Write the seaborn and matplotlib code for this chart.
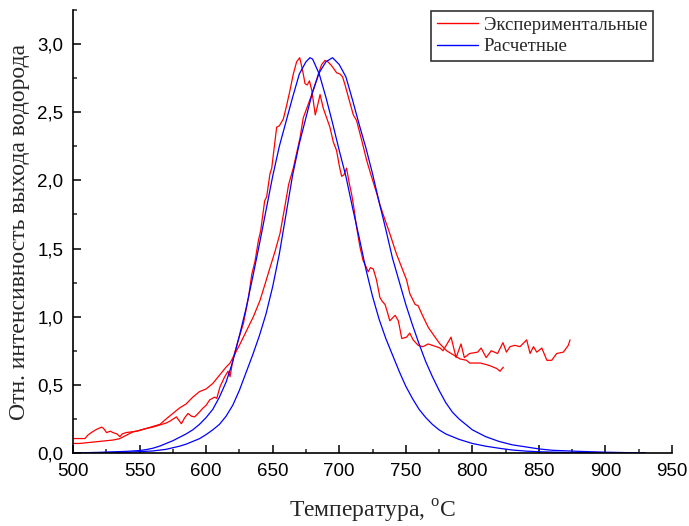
import matplotlib
matplotlib.use("Agg")
import matplotlib.pyplot as plt
from matplotlib.ticker import MultipleLocator, FuncFormatter
from matplotlib.lines import Line2D
import seaborn as sns
import pandas as pd

# ---- Data ----
exp1_t = [500, 505, 510, 515, 520, 525, 530, 535, 540, 545, 550, 555, 560, 565, 570, 573,
          577.7, 581.4, 584, 586.4, 589, 591.4, 594, 597.7, 600, 602.7, 606.4, 608, 610.4, 614,
          616.5, 618, 620.4, 624.2, 628, 631.8, 634.3, 636.8, 639.3, 641, 644, 645.5, 648, 649.3,
          651.8, 653, 655, 658, 660.5, 663, 665.5, 668, 670.3, 671.5, 673, 674.3, 676, 677.6,
          679.4, 682, 684, 685.6, 688, 690.5, 693, 695.6, 698, 700, 701.8, 703.5, 705.5, 707.5,
          709.3, 711, 713, 715.6, 718, 720, 721.8, 723.5, 725.6, 728, 730.6, 732.5, 734.4, 736,
          738, 740, 742, 744.4, 747, 750.6, 753, 755.5, 759.3, 763, 766.8, 770, 773, 775.7, 778,
          781, 784, 787.8, 791.5, 794, 798, 804, 806.6, 810.4, 814.2, 819, 823, 825.6, 828.3,
          832, 835.8, 840.8, 843.4, 845.9, 848.4, 852.2, 856, 859.6, 863.4, 868.4, 872.1, 873.4]
exp1_v = [0.07, 0.07, 0.075, 0.08, 0.085, 0.09, 0.095, 0.105, 0.13, 0.155, 0.165, 0.18, 0.19,
          0.205, 0.22, 0.235, 0.265, 0.215, 0.26, 0.29, 0.27, 0.265, 0.29, 0.33, 0.35, 0.39,
          0.41, 0.40, 0.485, 0.56, 0.60, 0.56, 0.70, 0.83, 0.95, 1.14, 1.31, 1.41, 1.56, 1.63,
          1.85, 1.88, 2.05, 2.09, 2.29, 2.39, 2.40, 2.45, 2.55, 2.66, 2.78, 2.87, 2.90, 2.85,
          2.78, 2.71, 2.70, 2.73, 2.66, 2.48, 2.56, 2.63, 2.53, 2.46, 2.39, 2.28, 2.22, 2.11,
          2.03, 2.04, 2.09, 1.98, 1.90, 1.80, 1.66, 1.51, 1.41, 1.37, 1.33, 1.36, 1.35, 1.27,
          1.14, 1.11, 1.09, 1.04, 0.97, 0.99, 1.01, 0.97, 0.84, 0.85, 0.88, 0.83, 0.79, 0.78,
          0.80, 0.79, 0.78, 0.77, 0.75, 0.80, 0.85, 0.70, 0.80, 0.70, 0.73, 0.74, 0.77, 0.70,
          0.75, 0.73, 0.81, 0.74, 0.78, 0.79, 0.78, 0.83, 0.73, 0.78, 0.74, 0.77, 0.68, 0.68,
          0.73, 0.74, 0.79, 0.83]

exp2_t = [500, 509, 511, 513.8, 517, 521.5, 523, 525.2, 528, 530, 533, 535.2, 537, 540, 544,
          547.8, 551, 555.3, 560, 565.3, 570, 575, 580, 585, 590, 595, 600, 605, 610, 615, 618,
          621.8, 625.5, 630.5, 635.5, 640.5, 644.3, 648, 651.8, 655.5, 659, 662, 665.5, 668,
          670.5, 673, 676.8, 680.5, 684.3, 686.8, 689.3, 691.5, 694.4, 698, 700.6, 702.5, 704.4,
          706.9, 710.6, 713, 717, 720.8, 724.5, 728.3, 730.6, 733, 738, 743, 747, 750.6, 753,
          757, 759.3, 763, 767, 772, 775.7, 780.7, 785.7, 790.8, 795.7, 798, 803.3, 805.9, 810,
          813.3, 818.3, 820.8, 823.3]
exp2_v = [0.106, 0.106, 0.13, 0.15, 0.17, 0.19, 0.18, 0.15, 0.16, 0.15, 0.14, 0.12, 0.14, 0.15,
          0.155, 0.16, 0.17, 0.18, 0.195, 0.21, 0.25, 0.29, 0.33, 0.36, 0.41, 0.45, 0.47, 0.51,
          0.57, 0.63, 0.66, 0.73, 0.80, 0.90, 1.00, 1.12, 1.24, 1.36, 1.48, 1.61, 1.80, 1.97,
          2.09, 2.20, 2.31, 2.46, 2.56, 2.66, 2.78, 2.85, 2.88, 2.87, 2.84, 2.79, 2.78, 2.76,
          2.70, 2.61, 2.48, 2.44, 2.29, 2.14, 2.02, 1.90, 1.82, 1.75, 1.61, 1.46, 1.36, 1.27,
          1.17, 1.09, 1.08, 1.00, 0.92, 0.85, 0.80, 0.75, 0.72, 0.69, 0.68, 0.66, 0.66, 0.66,
          0.65, 0.64, 0.62, 0.60, 0.63]

calc1_t = [500, 520, 540, 550, 555, 560, 565, 570, 575, 580, 585, 590, 595, 600, 605, 610, 615,
           620, 625, 630, 635, 640, 645, 650, 655, 660, 665, 670, 675, 678, 680, 685, 690, 695,
           700, 705, 710, 715, 720, 725, 730, 735, 740, 745, 750, 755, 760, 765, 770, 775, 780,
           790, 800, 810, 820, 830, 840, 850, 870, 900, 930]
calc1_v = [0.0, 0.005, 0.012, 0.018, 0.025, 0.035, 0.05, 0.07, 0.09, 0.115, 0.14, 0.17, 0.21,
           0.26, 0.32, 0.41, 0.52, 0.67, 0.86, 1.06, 1.29, 1.53, 1.78, 2.03, 2.25, 2.43, 2.61,
           2.78, 2.87, 2.90, 2.89, 2.78, 2.61, 2.42, 2.22, 2.03, 1.80, 1.58, 1.35, 1.15, 0.98,
           0.84, 0.72, 0.60, 0.49, 0.40, 0.32, 0.26, 0.21, 0.17, 0.14, 0.10, 0.07, 0.05, 0.035,
           0.022, 0.014, 0.009, 0.004, 0.001, 0.0]

calc2_t = [500, 540, 560, 570, 580, 585, 590, 595, 600, 605, 610, 615, 620, 625, 630, 635, 640,
           645, 650, 655, 660, 665, 670, 675, 680, 685, 690, 695, 700, 705, 710, 715, 720, 725,
           730, 735, 740, 745, 750, 755, 760, 765, 770, 775, 780, 785, 790, 795, 800, 805, 810,
           820, 830, 840, 850, 860, 880, 900, 930]
calc2_v = [0.0, 0.005, 0.015, 0.027, 0.05, 0.065, 0.085, 0.105, 0.135, 0.17, 0.21, 0.27, 0.35,
           0.46, 0.59, 0.72, 0.86, 1.02, 1.22, 1.46, 1.75, 2.04, 2.27, 2.46, 2.65, 2.79, 2.87,
           2.90, 2.85, 2.76, 2.59, 2.41, 2.24, 2.05, 1.84, 1.64, 1.43, 1.26, 1.09, 0.94, 0.80,
           0.67, 0.56, 0.46, 0.37, 0.30, 0.25, 0.21, 0.17, 0.145, 0.12, 0.085, 0.06, 0.045,
           0.03, 0.02, 0.012, 0.006, 0.0]

legend_labels = ["Экспериментальные", "Расчетные"]
x_label = r"Температура, $^{\mathregular{o}}$C"
y_label = "Отн. интенсивность выхода водорода"

# ---- Style ----
sns.set_style("ticks")
plt.rcParams["font.family"] = ["Liberation Sans", "DejaVu Sans"]
plt.rcParams["mathtext.fontset"] = "custom"
plt.rcParams["mathtext.rm"] = "Liberation Serif"

fig = plt.figure(figsize=(6.89, 5.26), dpi=100)
ax = fig.add_axes([73 / 689, 1 - 453 / 526, 599 / 689, 443 / 526])

series = [(exp1_t, exp1_v, "#ff0000"), (exp2_t, exp2_v, "#ff0000"),
          (calc1_t, calc1_v, "#0000ff"), (calc2_t, calc2_v, "#0000ff")]
for t, v, c in series:
    df = pd.DataFrame({"T": t, "I": v})
    sns.lineplot(data=df, x="T", y="I", ax=ax, color=c, linewidth=0.9,
                 sort=False, estimator=None, legend=False)

ax.set_xlim(500, 950)
ax.set_ylim(0, 3.25)
ax.xaxis.set_major_locator(MultipleLocator(50))
ax.xaxis.set_minor_locator(MultipleLocator(25))
ax.yaxis.set_major_locator(MultipleLocator(0.5))
ax.yaxis.set_minor_locator(MultipleLocator(0.25))
ax.yaxis.set_major_formatter(FuncFormatter(lambda v, p: f"{v:.1f}".replace(".", ",")))
ax.tick_params(axis="both", which="major", direction="in", length=5.5, width=1.1,
               labelsize=13.5, pad=7, colors="black")
ax.tick_params(axis="both", which="minor", direction="in", length=3.2, width=1.1)
for s in ["top", "right"]:
    ax.spines[s].set_visible(False)
for s in ["left", "bottom"]:
    ax.spines[s].set_linewidth(1.2)
    ax.spines[s].set_color("black")

ax.set_xlabel(x_label, fontsize=17, family=["Liberation Serif", "DejaVu Serif"], labelpad=13)
ax.set_ylabel(y_label, fontsize=17, family=["Liberation Serif", "DejaVu Serif"], labelpad=5)

handles = [Line2D([], [], color="#ff0000", lw=1.0), Line2D([], [], color="#0000ff", lw=1.0)]
leg = ax.legend(handles, legend_labels, loc="upper right", bbox_to_anchor=(0.968, 0.998),
                borderaxespad=0, frameon=True, fancybox=False, framealpha=1,
                edgecolor="#333333", prop={"family": ["Liberation Serif"], "size": 13.5},
                handlelength=2.2, handletextpad=0.3, borderpad=0.3, labelspacing=0.25)
leg.get_frame().set_linewidth(1.2)

fig.savefig("out.png", dpi=100)
